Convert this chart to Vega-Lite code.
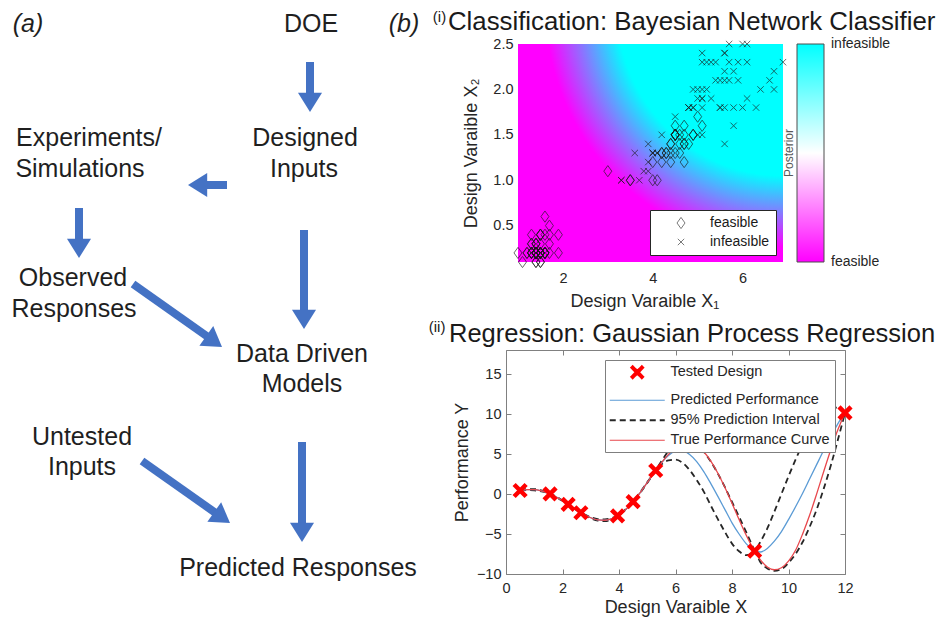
{
  "$schema": "https://vega.github.io/schema/vega-lite/v6.json",
  "background": "white",
  "padding": {"left": 0, "top": 9, "right": 0, "bottom": 0},
  "config": {
    "font": "Liberation Sans",
    "view": {"stroke": null},
    "axis": {"grid": false, "labelFont": "Liberation Sans", "titleFont": "Liberation Sans", "labelColor": "#262626", "titleColor": "#262626", "titleFontWeight": "normal", "labelFontSize": 14.5, "titleFontSize": 18, "labelFlush": false},
    "legend": {"labelFont": "Liberation Sans", "titleFont": "Liberation Sans"}
  },
  "resolve": {"scale": {"color": "independent", "fill": "independent", "shape": "independent"}, "legend": {"color": "independent", "fill": "independent", "shape": "independent"}},
  "datasets": {
    "arrows": [
      {"tx": 310, "ty": 61, "nx": 310, "ny": 96, "hx": 310, "hy": 111, "dir": 0},
      {"tx": 227, "ty": 184, "nx": 203, "ny": 184, "hx": 188, "hy": 184, "dir": 90},
      {"tx": 79, "ty": 207, "nx": 79, "ny": 242, "hx": 79, "hy": 257, "dir": 0},
      {"tx": 133, "ty": 283, "nx": 209.8, "ny": 337.3, "hx": 222, "hy": 346, "dir": 305.3},
      {"tx": 304, "ty": 229, "nx": 304, "ny": 313, "hx": 304, "hy": 328, "dir": 0},
      {"tx": 142, "ty": 460, "nx": 217.7, "ny": 513.4, "hx": 230, "hy": 522, "dir": 305},
      {"tx": 302, "ty": 441, "nx": 302, "ny": 526, "hx": 302, "hy": 541, "dir": 0}
    ],
    "nodes": [
      {"t": "DOE", "x": 311, "y": 23},
      {"t": "Designed", "x": 305, "y": 137},
      {"t": "Inputs", "x": 304, "y": 168},
      {"t": "Experiments/", "x": 89, "y": 137},
      {"t": "Simulations", "x": 80, "y": 168},
      {"t": "Observed", "x": 73, "y": 277},
      {"t": "Responses", "x": 74, "y": 308},
      {"t": "Data Driven", "x": 302, "y": 353},
      {"t": "Models", "x": 302, "y": 383},
      {"t": "Untested", "x": 82, "y": 436},
      {"t": "Inputs", "x": 82, "y": 466},
      {"t": "Predicted Responses", "x": 298, "y": 567}
    ],
    "panels": [
      {"t": "(a)", "x": 28, "y": 23},
      {"t": "(b)", "x": 404, "y": 23}
    ],
    "iris": [
      {"x1": 1.4, "x2": 0.2, "status": "feasible"}, {"x1": 1.4, "x2": 0.2, "status": "feasible"}, {"x1": 1.3, "x2": 0.2, "status": "feasible"}, {"x1": 1.5, "x2": 0.2, "status": "feasible"}, {"x1": 1.4, "x2": 0.2, "status": "feasible"},
      {"x1": 1.7, "x2": 0.4, "status": "feasible"}, {"x1": 1.4, "x2": 0.3, "status": "feasible"}, {"x1": 1.5, "x2": 0.2, "status": "feasible"}, {"x1": 1.4, "x2": 0.2, "status": "feasible"}, {"x1": 1.5, "x2": 0.1, "status": "feasible"},
      {"x1": 1.5, "x2": 0.2, "status": "feasible"}, {"x1": 1.6, "x2": 0.2, "status": "feasible"}, {"x1": 1.4, "x2": 0.1, "status": "feasible"}, {"x1": 1.1, "x2": 0.1, "status": "feasible"}, {"x1": 1.2, "x2": 0.2, "status": "feasible"},
      {"x1": 1.5, "x2": 0.4, "status": "feasible"}, {"x1": 1.3, "x2": 0.4, "status": "feasible"}, {"x1": 1.4, "x2": 0.3, "status": "feasible"}, {"x1": 1.7, "x2": 0.3, "status": "feasible"}, {"x1": 1.5, "x2": 0.3, "status": "feasible"},
      {"x1": 1.7, "x2": 0.2, "status": "feasible"}, {"x1": 1.5, "x2": 0.4, "status": "feasible"}, {"x1": 1.0, "x2": 0.2, "status": "feasible"}, {"x1": 1.7, "x2": 0.5, "status": "feasible"}, {"x1": 1.9, "x2": 0.2, "status": "feasible"},
      {"x1": 1.6, "x2": 0.2, "status": "feasible"}, {"x1": 1.6, "x2": 0.4, "status": "feasible"}, {"x1": 1.5, "x2": 0.2, "status": "feasible"}, {"x1": 1.4, "x2": 0.2, "status": "feasible"}, {"x1": 1.6, "x2": 0.2, "status": "feasible"},
      {"x1": 1.6, "x2": 0.2, "status": "feasible"}, {"x1": 1.5, "x2": 0.4, "status": "feasible"}, {"x1": 1.5, "x2": 0.1, "status": "feasible"}, {"x1": 1.4, "x2": 0.2, "status": "feasible"}, {"x1": 1.5, "x2": 0.2, "status": "feasible"},
      {"x1": 1.2, "x2": 0.2, "status": "feasible"}, {"x1": 1.3, "x2": 0.2, "status": "feasible"}, {"x1": 1.4, "x2": 0.1, "status": "feasible"}, {"x1": 1.3, "x2": 0.2, "status": "feasible"}, {"x1": 1.5, "x2": 0.2, "status": "feasible"},
      {"x1": 1.3, "x2": 0.3, "status": "feasible"}, {"x1": 1.3, "x2": 0.3, "status": "feasible"}, {"x1": 1.3, "x2": 0.2, "status": "feasible"}, {"x1": 1.6, "x2": 0.6, "status": "feasible"}, {"x1": 1.9, "x2": 0.4, "status": "feasible"},
      {"x1": 1.4, "x2": 0.3, "status": "feasible"}, {"x1": 1.6, "x2": 0.2, "status": "feasible"}, {"x1": 1.4, "x2": 0.2, "status": "feasible"}, {"x1": 1.5, "x2": 0.2, "status": "feasible"}, {"x1": 1.4, "x2": 0.2, "status": "feasible"},
      {"x1": 4.7, "x2": 1.4, "status": "feasible"}, {"x1": 4.5, "x2": 1.5, "status": "feasible"}, {"x1": 4.9, "x2": 1.5, "status": "feasible"}, {"x1": 4.0, "x2": 1.3, "status": "infeasible"}, {"x1": 4.6, "x2": 1.5, "status": "feasible"},
      {"x1": 4.5, "x2": 1.3, "status": "feasible"}, {"x1": 4.7, "x2": 1.6, "status": "feasible"}, {"x1": 3.3, "x2": 1.0, "status": "infeasible"}, {"x1": 4.6, "x2": 1.3, "status": "feasible"}, {"x1": 3.9, "x2": 1.4, "status": "infeasible"},
      {"x1": 3.5, "x2": 1.0, "status": "feasible"}, {"x1": 4.2, "x2": 1.5, "status": "infeasible"}, {"x1": 4.0, "x2": 1.0, "status": "feasible"}, {"x1": 4.7, "x2": 1.4, "status": "feasible"}, {"x1": 3.6, "x2": 1.3, "status": "infeasible"},
      {"x1": 4.4, "x2": 1.4, "status": "feasible"}, {"x1": 4.5, "x2": 1.5, "status": "feasible"}, {"x1": 4.1, "x2": 1.0, "status": "feasible"}, {"x1": 4.5, "x2": 1.5, "status": "feasible"}, {"x1": 3.9, "x2": 1.1, "status": "infeasible"},
      {"x1": 4.8, "x2": 1.8, "status": "infeasible"}, {"x1": 4.0, "x2": 1.3, "status": "infeasible"}, {"x1": 4.9, "x2": 1.5, "status": "feasible"}, {"x1": 4.7, "x2": 1.2, "status": "feasible"}, {"x1": 4.3, "x2": 1.3, "status": "feasible"},
      {"x1": 4.4, "x2": 1.4, "status": "feasible"}, {"x1": 4.8, "x2": 1.4, "status": "feasible"}, {"x1": 5.0, "x2": 1.7, "status": "feasible"}, {"x1": 4.5, "x2": 1.5, "status": "feasible"}, {"x1": 3.5, "x2": 1.0, "status": "feasible"},
      {"x1": 3.8, "x2": 1.1, "status": "infeasible"}, {"x1": 3.7, "x2": 1.0, "status": "infeasible"}, {"x1": 3.9, "x2": 1.2, "status": "infeasible"}, {"x1": 5.1, "x2": 1.6, "status": "feasible"}, {"x1": 4.5, "x2": 1.5, "status": "feasible"},
      {"x1": 4.5, "x2": 1.6, "status": "feasible"}, {"x1": 4.7, "x2": 1.5, "status": "feasible"}, {"x1": 4.4, "x2": 1.3, "status": "feasible"}, {"x1": 4.1, "x2": 1.3, "status": "infeasible"}, {"x1": 4.0, "x2": 1.3, "status": "infeasible"},
      {"x1": 4.4, "x2": 1.2, "status": "feasible"}, {"x1": 4.6, "x2": 1.4, "status": "feasible"}, {"x1": 4.0, "x2": 1.2, "status": "feasible"}, {"x1": 3.3, "x2": 1.0, "status": "infeasible"}, {"x1": 4.2, "x2": 1.3, "status": "feasible"},
      {"x1": 4.2, "x2": 1.2, "status": "feasible"}, {"x1": 4.2, "x2": 1.3, "status": "feasible"}, {"x1": 4.3, "x2": 1.3, "status": "feasible"}, {"x1": 3.0, "x2": 1.1, "status": "feasible"}, {"x1": 4.1, "x2": 1.3, "status": "infeasible"},
      {"x1": 6.0, "x2": 2.5, "status": "infeasible"}, {"x1": 5.1, "x2": 1.9, "status": "infeasible"}, {"x1": 5.9, "x2": 2.1, "status": "infeasible"}, {"x1": 5.6, "x2": 1.8, "status": "infeasible"}, {"x1": 5.8, "x2": 2.2, "status": "infeasible"},
      {"x1": 6.6, "x2": 2.1, "status": "infeasible"}, {"x1": 4.5, "x2": 1.7, "status": "infeasible"}, {"x1": 6.3, "x2": 1.8, "status": "infeasible"}, {"x1": 5.8, "x2": 1.8, "status": "infeasible"}, {"x1": 6.1, "x2": 2.5, "status": "infeasible"},
      {"x1": 5.1, "x2": 2.0, "status": "infeasible"}, {"x1": 5.3, "x2": 1.9, "status": "infeasible"}, {"x1": 5.5, "x2": 2.1, "status": "infeasible"}, {"x1": 5.0, "x2": 2.0, "status": "infeasible"}, {"x1": 5.1, "x2": 2.4, "status": "infeasible"},
      {"x1": 5.3, "x2": 2.3, "status": "infeasible"}, {"x1": 5.5, "x2": 1.8, "status": "infeasible"}, {"x1": 6.7, "x2": 2.2, "status": "infeasible"}, {"x1": 6.9, "x2": 2.3, "status": "infeasible"}, {"x1": 5.0, "x2": 1.5, "status": "infeasible"},
      {"x1": 5.7, "x2": 2.3, "status": "infeasible"}, {"x1": 4.9, "x2": 2.0, "status": "infeasible"}, {"x1": 6.7, "x2": 2.0, "status": "infeasible"}, {"x1": 4.9, "x2": 1.8, "status": "infeasible"}, {"x1": 5.7, "x2": 2.1, "status": "infeasible"},
      {"x1": 6.0, "x2": 1.8, "status": "infeasible"}, {"x1": 4.8, "x2": 1.8, "status": "infeasible"}, {"x1": 4.9, "x2": 1.8, "status": "infeasible"}, {"x1": 5.6, "x2": 2.1, "status": "infeasible"}, {"x1": 5.8, "x2": 1.6, "status": "infeasible"},
      {"x1": 6.1, "x2": 1.9, "status": "infeasible"}, {"x1": 6.4, "x2": 2.0, "status": "infeasible"}, {"x1": 5.6, "x2": 2.2, "status": "infeasible"}, {"x1": 5.1, "x2": 1.5, "status": "infeasible"}, {"x1": 5.6, "x2": 1.4, "status": "infeasible"},
      {"x1": 6.1, "x2": 2.3, "status": "infeasible"}, {"x1": 5.6, "x2": 2.4, "status": "infeasible"}, {"x1": 5.5, "x2": 1.8, "status": "infeasible"}, {"x1": 4.8, "x2": 1.8, "status": "infeasible"}, {"x1": 5.4, "x2": 2.1, "status": "infeasible"},
      {"x1": 5.6, "x2": 2.4, "status": "infeasible"}, {"x1": 5.1, "x2": 2.3, "status": "infeasible"}, {"x1": 5.1, "x2": 1.9, "status": "infeasible"}, {"x1": 5.9, "x2": 2.3, "status": "infeasible"}, {"x1": 5.7, "x2": 2.5, "status": "infeasible"},
      {"x1": 5.2, "x2": 2.3, "status": "infeasible"}, {"x1": 5.0, "x2": 1.9, "status": "infeasible"}, {"x1": 5.2, "x2": 2.0, "status": "infeasible"}, {"x1": 5.4, "x2": 2.3, "status": "infeasible"}, {"x1": 5.1, "x2": 1.8, "status": "infeasible"}
    ],
    "curves": [
      {"x": 0.5, "t": 0.44, "m": 0.44, "lo": 0.44, "hi": 0.44},
      {"x": 0.75, "t": 0.55, "m": 0.55, "lo": 0.49, "hi": 0.61},
      {"x": 1, "t": 0.54, "m": 0.54, "lo": 0.46, "hi": 0.62},
      {"x": 1.25, "t": 0.39, "m": 0.39, "lo": 0.33, "hi": 0.45},
      {"x": 1.5, "t": 0.11, "m": 0.11, "lo": 0.09, "hi": 0.13},
      {"x": 1.75, "t": -0.31, "m": -0.31, "lo": -0.34, "hi": -0.28},
      {"x": 2, "t": -0.83, "m": -0.83, "lo": -0.86, "hi": -0.8},
      {"x": 2.25, "t": -1.41, "m": -1.41, "lo": -1.42, "hi": -1.4},
      {"x": 2.5, "t": -2, "m": -2, "lo": -2.03, "hi": -1.97},
      {"x": 2.75, "t": -2.54, "m": -2.54, "lo": -2.57, "hi": -2.51},
      {"x": 3, "t": -2.97, "m": -2.97, "lo": -3.04, "hi": -2.9},
      {"x": 3.25, "t": -3.23, "m": -3.23, "lo": -3.33, "hi": -3.13},
      {"x": 3.5, "t": -3.28, "m": -3.28, "lo": -3.39, "hi": -3.17},
      {"x": 3.75, "t": -3.08, "m": -3.08, "lo": -3.16, "hi": -3},
      {"x": 4, "t": -2.61, "m": -2.61, "lo": -2.63, "hi": -2.59},
      {"x": 4.25, "t": -1.9, "m": -1.9, "lo": -1.94, "hi": -1.86},
      {"x": 4.5, "t": -0.95, "m": -0.95, "lo": -0.95, "hi": -0.95},
      {"x": 4.75, "t": 0.18, "m": 0.18, "lo": 0.14, "hi": 0.22},
      {"x": 5, "t": 1.42, "m": 1.42, "lo": 1.37, "hi": 1.47},
      {"x": 5.25, "t": 2.69, "m": 2.69, "lo": 2.67, "hi": 2.71},
      {"x": 5.5, "t": 3.9, "m": 3.88, "lo": 3.68, "hi": 4.08},
      {"x": 5.75, "t": 4.95, "m": 4.8, "lo": 4.2, "hi": 5.4},
      {"x": 6, "t": 5.76, "m": 5.35, "lo": 4.3, "hi": 6.4},
      {"x": 6.25, "t": 6.25, "m": 5.4, "lo": 3.9, "hi": 6.9},
      {"x": 6.5, "t": 6.35, "m": 4.95, "lo": 3, "hi": 6.9},
      {"x": 6.75, "t": 6.03, "m": 4.05, "lo": 1.75, "hi": 6.35},
      {"x": 7, "t": 5.28, "m": 2.8, "lo": 0.3, "hi": 5.3},
      {"x": 7.25, "t": 4.12, "m": 1.3, "lo": -1.45, "hi": 4.05},
      {"x": 7.5, "t": 2.6, "m": -0.3, "lo": -3.15, "hi": 2.55},
      {"x": 7.75, "t": 0.81, "m": -1.95, "lo": -4.75, "hi": 0.85},
      {"x": 8, "t": -1.16, "m": -3.6, "lo": -6.2, "hi": -1},
      {"x": 8.25, "t": -3.19, "m": -5, "lo": -7.15, "hi": -2.85},
      {"x": 8.5, "t": -5.12, "m": -6.2, "lo": -7.65, "hi": -4.75},
      {"x": 8.75, "t": -6.83, "m": -7, "lo": -7.3, "hi": -6.7},
      {"x": 8.8, "t": -7.14, "m": -7.1, "lo": -7.1, "hi": -7.1},
      {"x": 9, "t": -8.2, "m": -7.25, "lo": -8.5, "hi": -6},
      {"x": 9.25, "t": -9.13, "m": -6.8, "lo": -9.3, "hi": -4.3},
      {"x": 9.5, "t": -9.47, "m": -5.9, "lo": -9.6, "hi": -2.2},
      {"x": 9.75, "t": -9.22, "m": -4.7, "lo": -9.4, "hi": 0},
      {"x": 10, "t": -8.39, "m": -3.2, "lo": -8.6, "hi": 2.2},
      {"x": 10.25, "t": -7.04, "m": -1.6, "lo": -7.5, "hi": 4.3},
      {"x": 10.5, "t": -4.99, "m": 0.1, "lo": -6, "hi": 6.2},
      {"x": 10.75, "t": -2.63, "m": 1.9, "lo": -4.1, "hi": 7.9},
      {"x": 11, "t": 0.05, "m": 3.7, "lo": -1.9, "hi": 9.3},
      {"x": 11.25, "t": 2.85, "m": 5.5, "lo": 0.7, "hi": 10.3},
      {"x": 11.5, "t": 5.56, "m": 7.2, "lo": 3.6, "hi": 10.8},
      {"x": 11.75, "t": 8.05, "m": 8.8, "lo": 6.8, "hi": 10.8},
      {"x": 12, "t": 10.13, "m": 10.13, "lo": 10.13, "hi": 10.13}
    ],
    "tested": [
      {"x": 0.5, "y": 0.44}, {"x": 1.56, "y": 0.02}, {"x": 2.2, "y": -1.29}, {"x": 2.65, "y": -2.34}, {"x": 3.95, "y": -2.73},
      {"x": 4.5, "y": -0.95}, {"x": 5.3, "y": 2.94}, {"x": 8.8, "y": -7.14}, {"x": 12, "y": 10.13}
    ]
  },
  "spacing": 8,
  "hconcat": [
    {
      "width": 420,
      "height": 575,
      "layer": [
        {
          "data": {"name": "arrows"},
          "mark": {"type": "rule", "color": "#4472C4", "strokeWidth": 8},
          "encoding": {
            "x": {"field": "tx", "type": "quantitative", "scale": {"domain": [0, 420], "nice": false, "zero": false}, "axis": null},
            "y": {"field": "ty", "type": "quantitative", "scale": {"domain": [43, 618], "nice": false, "zero": false, "reverse": true}, "axis": null},
            "x2": {"field": "nx"},
            "y2": {"field": "ny"}
          }
        },
        {
          "data": {"name": "arrows"},
          "mark": {"type": "point", "shape": "M0,0L-1,-1.6L1,-1.6Z", "filled": true, "color": "#4472C4", "opacity": 1, "size": 576},
          "encoding": {
            "x": {"field": "hx", "type": "quantitative", "axis": null},
            "y": {"field": "hy", "type": "quantitative", "axis": null},
            "angle": {"field": "dir", "type": "quantitative", "scale": null}
          }
        },
        {
          "data": {"name": "nodes"},
          "mark": {"type": "text", "fontSize": 25, "color": "#1f1f1f", "align": "center", "baseline": "middle"},
          "encoding": {
            "x": {"field": "x", "type": "quantitative", "axis": null},
            "y": {"field": "y", "type": "quantitative", "axis": null},
            "text": {"field": "t"}
          }
        },
        {
          "data": {"name": "panels"},
          "mark": {"type": "text", "fontSize": 25, "fontStyle": "italic", "color": "#1f1f1f", "align": "center", "baseline": "middle"},
          "encoding": {
            "x": {"field": "x", "type": "quantitative", "axis": null},
            "y": {"field": "y", "type": "quantitative", "axis": null},
            "text": {"field": "t"}
          }
        }
      ]
    },
    {
      "spacing": 8,
      "resolve": {"scale": {"color": "independent", "fill": "independent", "shape": "independent"}, "legend": {"color": "independent", "fill": "independent", "shape": "independent"}},
      "vconcat": [
        {
          "width": 277,
          "height": 218,
          "layer": [
            {
              "data": {"values": [{"a": 1, "b": 6.9, "c": 0.1, "d": 2.5}]},
              "mark": {"type": "rect", "fill": {"gradient": "radial", "x1": 1.005, "y1": -0.044, "r1": 0, "x2": 1.005, "y2": -0.044, "r2": 1, "stops": [{"offset": 0, "color": "#00ffff"}, {"offset": 0.63, "color": "#00ffff"}, {"offset": 0.9, "color": "#ff00ff"}, {"offset": 1, "color": "#ff00ff"}]}},
              "encoding": {
                "x": {"field": "a", "type": "quantitative", "scale": {"domain": [0.733, 6.9], "nice": false, "zero": false}, "title": "Design Varaible X₁",
                  "axis": {"values": [2, 4, 6], "domain": false, "ticks": false, "labelPadding": 9, "titlePadding": 8}},
                "x2": {"field": "b"},
                "y": {"field": "c", "type": "quantitative", "scale": {"domain": [0.1, 2.5], "nice": false, "zero": false}, "title": "Design Varaible X₂",
                  "axis": {"values": [0.5, 1, 1.5, 2, 2.5], "domain": false, "ticks": false, "labelPadding": 5, "offset": -12, "titlePadding": 12}},
                "y2": {"field": "d"}
              }
            },
            {
              "data": {"name": "iris"},
              "mark": {"type": "point", "filled": false, "stroke": "#1a1a1a", "strokeWidth": 1, "opacity": 0.65, "size": 64},
              "encoding": {
                "x": {"field": "x1", "type": "quantitative", "title": "Design Varaible X₁"},
                "y": {"field": "x2", "type": "quantitative", "title": "Design Varaible X₂"},
                "shape": {"field": "status", "type": "nominal",
                  "scale": {"domain": ["feasible", "infeasible"], "range": ["M0,-1.4L1,0L0,1.4L-1,0Z", "M-0.8,-0.8L0.8,0.8M-0.8,0.8L0.8,-0.8"]},
                  "legend": {"title": null, "orient": "bottom-right", "offset": 7, "fillColor": "white", "strokeColor": "#262626", "padding": 6, "symbolOffset": 18, "labelOffset": 22, "symbolSize": 64, "symbolStrokeWidth": 1, "symbolStrokeColor": "#333333", "symbolFillColor": "transparent", "labelFontSize": 14, "labelColor": "#1a1a1a", "rowPadding": 4}}
              }
            },
            {
              "data": {"values": [{"p": 0}, {"p": 0.5}, {"p": 1}]},
              "mark": {"type": "point", "filled": true, "size": 0, "opacity": 1},
              "encoding": {
                "fill": {"field": "p", "type": "quantitative",
                  "scale": {"domain": [0, 0.5, 1], "range": ["#ff00ff", "#ffffff", "#00ffff"], "interpolate": "rgb"},
                  "legend": {"title": "Posterior", "orient": "right", "offset": 0, "direction": "vertical", "gradientLength": 218, "gradientThickness": 27, "gradientStrokeColor": "#4d4d4d", "gradientStrokeWidth": 1, "titleOrient": "left", "titleAngle": 270, "titleAnchor": "middle", "titleFontSize": 12, "titleFontWeight": "normal", "titleColor": "#595959", "titlePadding": 0, "values": [0.002, 0.998], "labelExpr": "datum.value < 0.5 ? 'feasible' : 'infeasible'", "labelFontSize": 14, "labelColor": "#262626", "labelOffset": 7, "labelOverlap": false, "padding": 0}}
              }
            },
            {
              "data": {"values": [{}]},
              "mark": {"type": "text", "fontSize": 25.8, "color": "#1a1a1a", "align": "left", "baseline": "alphabetic"},
              "encoding": {
                "x": {"datum": -0.559, "type": "quantitative"},
                "y": {"datum": 2.65, "type": "quantitative"},
                "text": {"value": "Classification: Bayesian Network Classifier"}
              }
            },
            {
              "data": {"values": [{}]},
              "mark": {"type": "text", "fontSize": 15, "color": "#1a1a1a", "align": "center", "baseline": "alphabetic"},
              "encoding": {
                "x": {"datum": -0.748, "type": "quantitative"},
                "y": {"datum": 2.738, "type": "quantitative"},
                "text": {"value": "(i)"}
              }
            }
          ]
        },
        {
          "width": 339,
          "height": 224,
          "view": {"stroke": "#808080"},
          "resolve": {"axis": {"x": "independent", "y": "independent"}},
          "layer": [
            {
              "data": {"name": "curves"},
              "transform": [{"fold": ["lo", "hi"], "as": ["band", "v"]}],
              "mark": {"type": "line", "strokeDash": [6, 4], "strokeWidth": 1.8, "interpolate": "monotone"},
              "encoding": {
                "x": {"field": "x", "type": "quantitative", "scale": {"domain": [0, 12], "nice": false, "zero": false}, "title": "Design Varaible X",
                  "axis": {"orient": "bottom", "values": [0, 2, 4, 6, 8, 10, 12], "domain": false, "tickSize": -5, "tickColor": "#808080", "labelPadding": 12, "titlePadding": 4}},
                "y": {"field": "v", "type": "quantitative", "scale": {"domain": [-10, 18], "nice": false, "zero": false}, "title": "Performance Y",
                  "axis": {"orient": "left", "values": [-10, -5, 0, 5, 10, 15], "domain": false, "tickSize": -5, "tickColor": "#808080", "labelPadding": 10, "titlePadding": 5}},
                "detail": {"field": "band"},
                "color": {"datum": "95% Prediction Interval", "type": "nominal",
                  "scale": {"domain": ["Tested Design", "Predicted Performance", "95% Prediction Interval", "True Performance Curve"], "range": ["#ff0000", "#5b9bd5", "#262626", "#e8474c"]},
                  "legend": {"title": null, "orient": "top-right", "offset": 10, "fillColor": "white", "strokeColor": "#7f7f7f", "padding": 5, "symbolOffset": 20, "labelOffset": 26, "symbolSize": 100, "labelFontSize": 14.5, "labelColor": "#262626", "rowPadding": 5, "labelLimit": 300,
                    "encode": {"symbols": {"update": {
                      "shape": {"signal": "datum.label === 'Tested Design' ? 'M-1.2,-1.2L1.2,1.2M-1.2,1.2L1.2,-1.2' : 'M-5.5,0L5.5,0'"},
                      "strokeWidth": {"signal": "datum.label === 'Tested Design' ? 4 : (datum.label === '95% Prediction Interval' ? 1.8 : 1.2)"},
                      "strokeDash": {"signal": "datum.label === '95% Prediction Interval' ? [6, 4] : [1, 0]"},
                      "fill": {"value": "transparent"},
                      "opacity": {"value": 1}
                    }}}}}
              }
            },
            {
              "data": {"name": "curves"},
              "mark": {"type": "line", "strokeWidth": 1.3, "interpolate": "monotone"},
              "encoding": {
                "x": {"field": "x", "type": "quantitative", "axis": null},
                "y": {"field": "m", "type": "quantitative", "axis": null},
                "color": {"datum": "Predicted Performance", "type": "nominal"}
              }
            },
            {
              "data": {"name": "curves"},
              "mark": {"type": "line", "strokeWidth": 1.3, "interpolate": "monotone"},
              "encoding": {
                "x": {"field": "x", "type": "quantitative", "axis": null},
                "y": {"field": "t", "type": "quantitative", "axis": null},
                "color": {"datum": "True Performance Curve", "type": "nominal"}
              }
            },
            {
              "data": {"name": "tested"},
              "mark": {"type": "point", "shape": "M-1,-1L1,1M-1,1L1,-1", "filled": false, "strokeWidth": 4.5, "size": 144, "opacity": 1},
              "encoding": {
                "x": {"field": "x", "type": "quantitative",
                  "axis": {"orient": "top", "values": [0, 2, 4, 6, 8, 10, 12], "labels": false, "domain": false, "tickSize": -5, "tickColor": "#808080", "title": null}},
                "y": {"field": "y", "type": "quantitative",
                  "axis": {"orient": "right", "values": [-10, -5, 0, 5, 10, 15], "labels": false, "domain": false, "tickSize": -5, "tickColor": "#808080", "title": null}},
                "color": {"datum": "Tested Design", "type": "nominal"}
              }
            },
            {
              "data": {"values": [{}]},
              "mark": {"type": "text", "fontSize": 25.5, "color": "#1a1a1a", "align": "left", "baseline": "alphabetic"},
              "encoding": {
                "x": {"datum": -2.018, "type": "quantitative", "axis": null},
                "y": {"datum": 19.06, "type": "quantitative", "axis": null},
                "text": {"value": "Regression: Gaussian Process Regression"}
              }
            },
            {
              "data": {"values": [{}]},
              "mark": {"type": "text", "fontSize": 15, "color": "#1a1a1a", "align": "center", "baseline": "alphabetic"},
              "encoding": {
                "x": {"datum": -2.44, "type": "quantitative", "axis": null},
                "y": {"datum": 20.19, "type": "quantitative", "axis": null},
                "text": {"value": "(ii)"}
              }
            }
          ]
        }
      ]
    }
  ]
}
